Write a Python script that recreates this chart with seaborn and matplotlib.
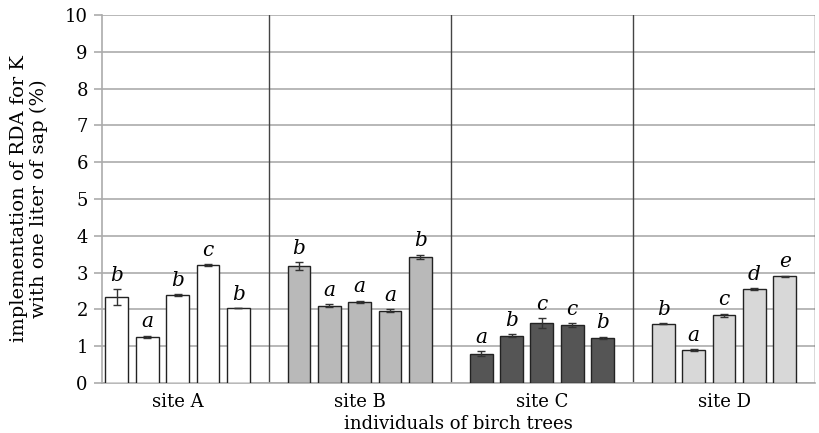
import pandas as pd
import seaborn as sns
import matplotlib.pyplot as plt

# =====================
# Data
# =====================
sites = ["site A", "site B", "site C", "site D"]
site_a = [2.33, 1.25, 2.39, 3.20, 2.03]
site_b = [3.18, 2.10, 2.20, 1.96, 3.42]
site_c = [0.79, 1.29, 1.63, 1.58, 1.23]
site_d = [1.61, 0.89, 1.84, 2.56, 2.90]
err_a = [0.22, 0.03, 0.03, 0.03, 0.0]
err_b = [0.10, 0.04, 0.04, 0.04, 0.06]
err_c = [0.07, 0.03, 0.13, 0.05, 0.03]
err_d = [0.02, 0.02, 0.04, 0.02, 0.02]
letters_a = ["b", "a", "b", "c", "b"]
letters_b = ["b", "a", "a", "a", "b"]
letters_c = ["a", "b", "c", "c", "b"]
letters_d = ["b", "a", "c", "d", "e"]
colors = ["#ffffff", "#b9b9b9", "#555555", "#d8d8d8"]

values = [site_a, site_b, site_c, site_d]
errors = [err_a, err_b, err_c, err_d]
letters = [letters_a, letters_b, letters_c, letters_d]

rows = []
for g, site in enumerate(sites):
    for i in range(5):
        rows.append({"pos": 6 * g + i, "site": site, "value": values[g][i],
                     "err": errors[g][i], "letter": letters[g][i]})
df = pd.DataFrame(rows)

# =====================
# Plot
# =====================
sns.set_theme(style="white")
plt.rcParams["font.family"] = ["DejaVu Serif"]
plt.rcParams["text.color"] = "black"
plt.rcParams["axes.labelcolor"] = "black"
plt.rcParams["xtick.color"] = "black"
plt.rcParams["ytick.color"] = "black"

fig = plt.figure(figsize=(8.2, 4.33), dpi=100)
ax = fig.add_axes([0.124, 0.1155, 0.87, 0.85])

sns.barplot(data=df, x="pos", y="value", hue="site", palette=colors,
            native_scale=True, dodge=False, width=0.75, errorbar=None,
            edgecolor="#222222", linewidth=1.0, legend=False, ax=ax, zorder=3)

ax.errorbar(df["pos"], df["value"], yerr=df["err"], fmt="none",
            ecolor="#333333", elinewidth=1.0, capsize=3, capthick=1.0, zorder=4)

for _, r in df.iterrows():
    ax.text(r["pos"], r["value"] + r["err"] + 0.12, r["letter"], ha="center",
            va="bottom", fontsize=14.5, style="italic", color="black", zorder=5)

ax.set_xlim(-0.5, 23)
ax.set_ylim(0, 10)
ax.set_yticks(range(0, 11))
ax.yaxis.grid(True, color="#ababab", linewidth=1.2, zorder=0)
ax.set_axisbelow(True)
for b in [5, 11, 17, 23]:
    ax.axvline(b, color="#444444", linewidth=1.0, zorder=1)

ax.set_xticks([2, 8, 14, 20])
ax.set_xticklabels(sites)
ax.tick_params(axis="x", length=0, labelsize=13, pad=7)
ax.tick_params(axis="y", length=6, color="#ababab", width=1.2, labelsize=13,
               left=True, pad=4)

for s in ["top", "right"]:
    ax.spines[s].set_visible(False)
ax.spines["left"].set_color("#ababab")
ax.spines["left"].set_linewidth(1.2)
ax.spines["bottom"].set_color("#ababab")
ax.spines["bottom"].set_linewidth(1.2)

ax.set_xlabel("individuals of birch trees", fontsize=13, labelpad=3)
ax.set_ylabel("implementation of RDA for K\nwith one liter of sap (%)",
              fontsize=14, labelpad=12, linespacing=1.15)

fig.savefig("out.png", dpi=100)
